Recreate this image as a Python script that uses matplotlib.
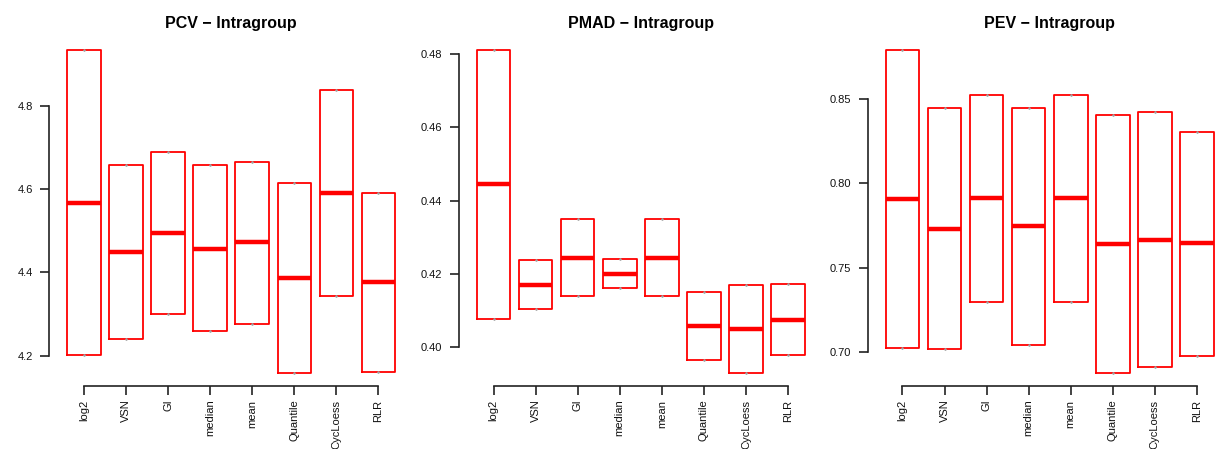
import numpy as np
import matplotlib.pyplot as plt

plt.rcParams['font.family'] = ['Liberation Sans', 'DejaVu Sans']

methods = ['log2', 'VSN', 'GI', 'median', 'mean', 'Quantile', 'CycLoess', 'RLR']

# lower hinge, median, upper hinge for each normalisation method
pcv_low = [4.201, 4.239, 4.300, 4.258, 4.277, 4.158, 4.343, 4.161]
pcv_med = [4.568, 4.449, 4.495, 4.457, 4.472, 4.387, 4.590, 4.377]
pcv_high = [4.935, 4.658, 4.690, 4.658, 4.666, 4.616, 4.838, 4.592]

pmad_low = [0.4078, 0.4104, 0.4141, 0.4161, 0.4141, 0.3966, 0.3930, 0.3978]
pmad_med = [0.4445, 0.4171, 0.4245, 0.4201, 0.4245, 0.4059, 0.4049, 0.4075]
pmad_high = [0.4811, 0.4238, 0.4349, 0.4240, 0.4349, 0.4151, 0.4169, 0.4173]

pev_low = [0.7020, 0.7016, 0.7295, 0.7042, 0.7295, 0.6874, 0.6911, 0.6978]
pev_med = [0.7905, 0.7730, 0.7911, 0.7745, 0.7911, 0.7640, 0.7665, 0.7644]
pev_high = [0.8792, 0.8445, 0.8526, 0.8449, 0.8526, 0.8404, 0.8422, 0.8306]

pcv_ticks = [4.2, 4.4, 4.6, 4.8]
pmad_ticks = [0.40, 0.42, 0.44, 0.46, 0.48]
pev_ticks = [0.70, 0.75, 0.80, 0.85]

panels = [
    ('PCV \u2212 Intragroup', pcv_low, pcv_med, pcv_high, pcv_ticks, '%.1f'),
    ('PMAD \u2212 Intragroup', pmad_low, pmad_med, pmad_high, pmad_ticks, '%.2f'),
    ('PEV \u2212 Intragroup', pev_low, pev_med, pev_high, pev_ticks, '%.2f'),
]

fig = plt.figure(figsize=(12.28, 4.49), dpi=100)
lefts = [0.0403, 0.3738, 0.7068]

for left, (title, low, med, high, ticks, fmt) in zip(lefts, panels):
    ax = fig.add_axes([left, 0.1403, 0.296, 0.7773])
    stats = [dict(q1=l, med=m, q3=h, whislo=l, whishi=h, fliers=[])
             for l, m, h in zip(low, med, high)]
    pos = np.arange(1, len(methods) + 1)
    # whiskers have zero length here, so they show up only as small grey dots
    ax.bxp(stats, positions=pos, widths=0.8, showcaps=False,
           boxprops=dict(color='#ff0000', linewidth=1.3),
           medianprops=dict(color='#ff0000', linewidth=3.2, solid_capstyle='butt'),
           whiskerprops=dict(color='#a0a0a0', linewidth=0, marker='o',
                             markersize=1.6, markeredgewidth=0, zorder=5))

    # R-style limits: 4% padding around the data range
    lo, hi = min(low), max(high)
    ext = 0.04 * (hi - lo)
    ax.set_ylim(lo - ext, hi + ext)
    ax.set_xlim(0.18, len(methods) + 0.82)

    ax.set_yticks(ticks)
    ax.set_yticklabels([fmt % t for t in ticks])
    ax.set_xticks(pos)
    ax.set_xticklabels(methods, rotation=90, va='top')

    for s in ('top', 'right'):
        ax.spines[s].set_visible(False)
    ax.spines['left'].set_bounds(ticks[0], ticks[-1])
    ax.spines['bottom'].set_bounds(pos[0], pos[-1])
    for s in ('left', 'bottom'):
        ax.spines[s].set_color('#222222')
        ax.spines[s].set_linewidth(1.2)
    ax.tick_params(axis='both', length=6.5, width=1.2, color='#222222',
                   labelsize=8, labelcolor='#111111')
    ax.tick_params(axis='y', pad=5.5)
    ax.tick_params(axis='x', pad=3.3)
    ax.set_title(title, fontsize=11.5, fontweight='bold', pad=6.3)
    ax.patch.set_visible(False)

fig.savefig('out.png', dpi=100)
